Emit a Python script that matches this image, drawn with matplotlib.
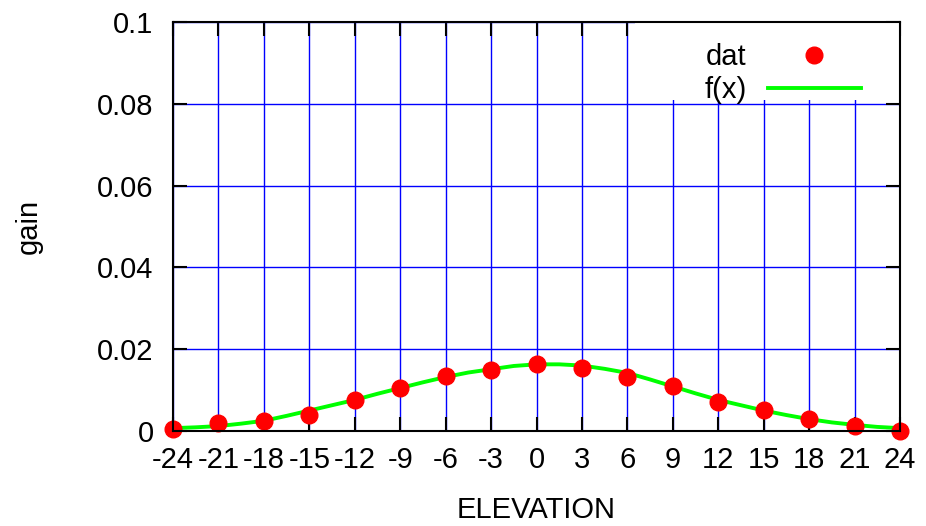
import matplotlib.pyplot as plt
from matplotlib.patches import Rectangle

plt.rcParams['font.family'] = ['Liberation Sans', 'DejaVu Sans']

# measured points
elev = [-24, -21, -18, -15, -12, -9, -6, -3, 0, 3, 6, 9, 12, 15, 18, 21, 24]
gain = [0.0004, 0.0019, 0.0025, 0.0040, 0.0075, 0.0106, 0.0135, 0.0150, 0.0165,
        0.0153, 0.0133, 0.0109, 0.0071, 0.0051, 0.0029, 0.0012, 0.0001]

# fitted curve
fit_x = [-24, -22.5, -21, -19.5, -18, -16.5, -15, -13.5, -12, -10.5, -9, -7.5, -6, -4.5, -3, -1.5, 0,
         1.5, 3, 4.5, 6, 7.5, 9, 10.5, 12, 13.5, 15, 16.5, 18, 19.5, 21, 22.5, 24]
fit_y = [0.0007, 0.0009, 0.0012, 0.0018, 0.0025, 0.0037, 0.0050, 0.0063, 0.0076, 0.0091, 0.0105,
         0.0119, 0.0132, 0.0143, 0.0151, 0.0159, 0.0163, 0.0163, 0.0160, 0.0152, 0.0142, 0.0126,
         0.0109, 0.0092, 0.0076, 0.0063, 0.0050, 0.0039, 0.0029, 0.0021, 0.0015, 0.0010, 0.0007]

xticks = list(range(-24, 25, 3))
yticks = [0, 0.02, 0.04, 0.06, 0.08, 0.1]
ytick_labels = ['0', '0.02', '0.04', '0.06', '0.08', '0.1']

FS = 21
W, H = 926, 526
L, R, T, B = 173, 900, 22, 431
fig = plt.figure(figsize=(W / 100, H / 100), dpi=100)
ax = fig.add_axes([L / W, 1 - B / H, (R - L) / W, (B - T) / H])

ax.plot(fit_x, fit_y, color='#00ff00', linewidth=2.8, label='f(x)', zorder=3)
ax.plot(elev, gain, 'o', color='#ff0000', markersize=12, label='dat', zorder=4, clip_on=False)

ax.set_xlim(-24, 24)
ax.set_ylim(0, 0.1)
ax.set_xticks(xticks)
ax.set_xticklabels([str(t) for t in xticks])
ax.set_yticks(yticks)
ax.set_yticklabels(ytick_labels)
ax.grid(True, color='#0000ff', linewidth=1)
ax.set_axisbelow(True)
ax.tick_params(direction='in', length=10, width=1.5, top=True, right=True, labelsize=FS)
ax.tick_params(axis='x', pad=11)
ax.tick_params(axis='y', pad=14)
for s in ax.spines.values():
    s.set_linewidth(1.5)
    s.set_zorder(5)

# white box behind the key, like gnuplot
ax.add_patch(Rectangle(((635 - L) / (R - L), (B - 100) / (B - T)), (R - 635) / (R - L), (100 - T) / (B - T),
                       transform=ax.transAxes, facecolor='white', edgecolor='none', zorder=1))

ax.set_xlabel('ELEVATION', fontsize=FS)
ax.set_ylabel('gain', fontsize=FS)
ax.xaxis.set_label_coords(0.5, (B - 496) / (B - T))
ax.yaxis.set_label_coords((43 - L) / (R - L), 0.5)

h, l = ax.get_legend_handles_labels()
leg = ax.legend(h[::-1], l[::-1], loc='upper right',
                bbox_to_anchor=((861 - L) / (R - L), (B - 43) / (B - T)), markerfirst=False,
                frameon=False, fontsize=FS, handlelength=3.2, borderpad=0, labelspacing=0.17,
                handletextpad=0.72, borderaxespad=0)

fig.savefig('out.png', dpi=100)
